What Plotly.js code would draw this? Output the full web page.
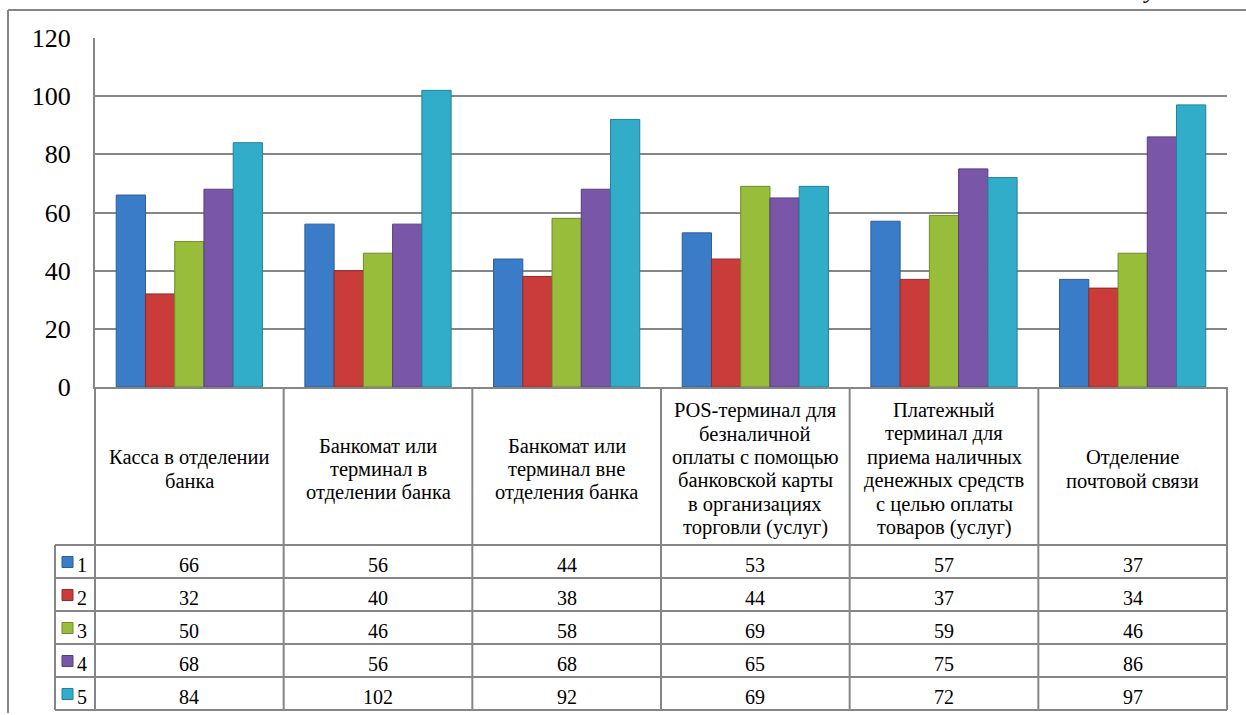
<!DOCTYPE html>
<html>
<head>
<meta charset="utf-8">
<script src="https://cdn.plot.ly/plotly-3.0.1.min.js"></script>
<style>html,body{margin:0;padding:0;background:#fff;}#chart{width:1246px;height:715px;}</style>
</head>
<body>
<div id="chart"></div>
<script>
// ---- data ----
const categories = [
  "Касса в отделении<br>банка",
  "Банкомат или<br>терминал в<br>отделении банка",
  "Банкомат или<br>терминал вне<br>отделения банка",
  "POS-терминал для<br>безналичной<br>оплаты с помощью<br>банковской карты<br>в организациях<br>торговли (услуг)",
  "Платежный<br>терминал для<br>приема наличных<br>денежных средств<br>с целью оплаты<br>товаров (услуг)",
  "Отделение<br>почтовой связи"
];
const seriesNames = ["1", "2", "3", "4", "5"];
const series1 = [66, 56, 44, 53, 57, 37];
const series2 = [32, 40, 38, 44, 37, 34];
const series3 = [50, 46, 58, 69, 59, 46];
const series4 = [68, 56, 68, 65, 75, 86];
const series5 = [84, 102, 92, 69, 72, 97];
const yTicks = [0, 20, 40, 60, 80, 100, 120];
const captionText = "Рисунок 3";

// ---- styling ----
const allSeries = [series1, series2, series3, series4, series5];
const colors = ["#3b7cc8", "#c93c3a", "#98bd3a", "#7a56a9", "#31adca"];
const edges = ["#2a5d99", "#952a28", "#6f8c28", "#573d7d", "#22809a"];
const gridColor = "#868686";
const FONT = "Liberation Serif";

// plot-area pixel frame
const W = 1246, H = 715;
const L = 95, R = 1227, T = 38, B = 387;
const px = v => (v - L) / (R - L);
const py = v => (B - v) / (B - T);

const headerBottom = 545, rowH = 33;
const headerCenter = 469, headerLine = 23.5;
const legendLeft = 55;
const nCat = categories.length;

const traces = allSeries.map((vals, i) => ({
  type: "bar",
  name: seriesNames[i],
  x: categories.map((c, k) => k),
  y: vals,
  marker: {color: colors[i], line: {color: edges[i], width: 1}}
}));

const shapes = [];
const annotations = [];
const line = (x0, y0, x1, y1, w) => shapes.push({
  type: "line", xref: "paper", yref: "paper",
  x0: px(x0), y0: py(y0), x1: px(x1), y1: py(y1),
  line: {color: gridColor, width: w || 2}
});

// outer frame (left and top)
line(8, 10, 8, 713, 2);
line(8, 10, W + 5, 10, 2);

// table grid
const bottom = headerBottom + rowH * seriesNames.length;
for (let k = 0; k <= nCat; k++) {
  const xx = L + (R - L) * k / nCat;
  line(xx, B, xx, bottom);
}
line(legendLeft, headerBottom, legendLeft, bottom);
for (let r = 0; r <= seriesNames.length; r++) {
  const yy = headerBottom + rowH * r;
  line(legendLeft, yy, R, yy);
}

// header texts, one annotation per line for tight line spacing
categories.forEach((c, k) => {
  const parts = c.split("<br>");
  parts.forEach((t, j) => {
    const yy = headerCenter + (j - (parts.length - 1) / 2) * headerLine;
    annotations.push({
      xref: "x", yref: "paper", x: k, y: py(yy),
      text: t, showarrow: false, xanchor: "center", yanchor: "middle",
      font: {family: FONT, size: 20.5}
    });
  });
});

// data rows
allSeries.forEach((vals, i) => {
  const yc = headerBottom + rowH * i + rowH / 2;
  shapes.push({
    type: "rect", xref: "paper", yref: "paper",
    x0: px(62), x1: px(73), y0: py(yc - 5), y1: py(yc + 6),
    fillcolor: colors[i], line: {color: edges[i], width: 1}
  });
  annotations.push({
    xref: "paper", yref: "paper", x: px(75), y: py(yc + 3),
    text: seriesNames[i], showarrow: false, xanchor: "left", yanchor: "middle",
    font: {family: FONT, size: 20}
  });
  vals.forEach((v, k) => {
    annotations.push({
      xref: "x", yref: "paper", x: k, y: py(yc + 3),
      text: String(v), showarrow: false, xanchor: "center", yanchor: "middle",
      font: {family: FONT, size: 20}
    });
  });
});

// caption cut at top right (as in the reference)
annotations.push({
  xref: "paper", yref: "paper", x: px(1105), y: py(5),
  text: "<i>" + captionText + "</i>", showarrow: false,
  xanchor: "left", yanchor: "bottom",
  font: {family: FONT, size: 24}
});

const layout = {
  width: W, height: H,
  margin: {l: L, r: W - R, t: T, b: H - B},
  paper_bgcolor: "#fff", plot_bgcolor: "#fff",
  font: {family: FONT, color: "#000"},
  showlegend: false,
  barmode: "group",
  bargap: 0.225,
  bargroupgap: 0,
  xaxis: {
    range: [-0.5, nCat - 0.5],
    showticklabels: false, showgrid: false, zeroline: false,
    showline: true, linecolor: gridColor, linewidth: 2, ticks: ""
  },
  yaxis: {
    range: [0, 120], tickvals: yTicks,
    showgrid: true, gridcolor: gridColor, gridwidth: 2,
    zeroline: false, showline: true, linecolor: gridColor, linewidth: 2,
    ticks: "", ticklabelstandoff: 17,
    tickfont: {family: FONT, size: 26, color: "#000"}
  },
  shapes: shapes,
  annotations: annotations
};

Plotly.newPlot("chart", traces, layout, {staticPlot: true});
</script>
</body>
</html>
